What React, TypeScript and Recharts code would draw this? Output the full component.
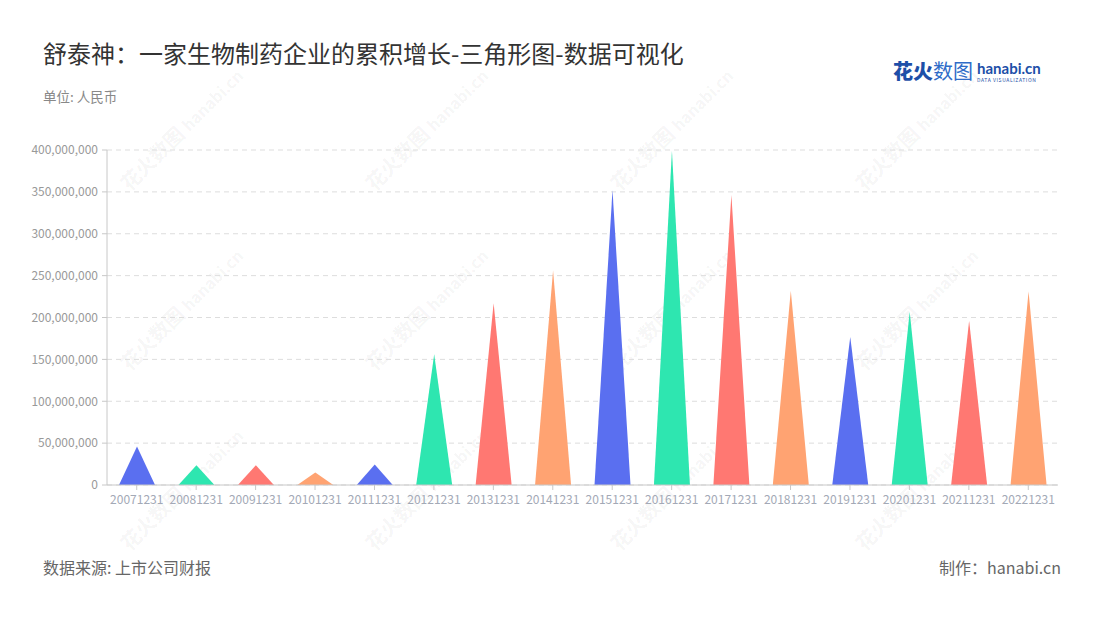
import React from "react";
import { BarChart, Bar, XAxis, YAxis, CartesianGrid, Cell } from "recharts";

const categories = [
  "20071231", "20081231", "20091231", "20101231", "20111231", "20121231",
  "20131231", "20141231", "20151231", "20161231", "20171231", "20181231",
  "20191231", "20201231", "20211231", "20221231",
];
const values = [
  46000000, 23500000, 23500000, 15000000, 24500000, 156000000,
  217000000, 256000000, 352000000, 399000000, 347000000, 232000000,
  177000000, 207000000, 196000000, 231000000,
];
const yTicks = [0, 50000000, 100000000, 150000000, 200000000, 250000000, 300000000, 350000000, 400000000];
const palette = ["#5A6FF0", "#2EE6B0", "#FF7872", "#FFA372"];

const data = categories.map((c, i) => ({ name: c, value: values[i] }));

const FONT = '"Noto Sans CJK SC", "Noto Sans", sans-serif';

const Triangle = (props: any) => {
  const { x, y, width, height, fill } = props;
  if (height == null || height <= 0) return null;
  const d = `M${x},${y + height} L${x + width / 2},${y} L${x + width},${y + height} Z`;
  return <path d={d} fill={fill} stroke="none" />;
};

const fmt = (v: number) => v.toLocaleString("en-US");

const watermarkPos: [number, number][] = [];
[180, 425, 670, 915].forEach((x) => {
  [130, 310, 490].forEach((y) => watermarkPos.push([x, y]));
});

export default function App() {
  return (
    <div style={{ position: "relative", width: 1100, height: 620, background: "#fff", fontFamily: FONT, overflow: "hidden" }}>
      <style>{`body{margin:0;}`}</style>
      {watermarkPos.map(([x, y], i) => (
        <div
          key={i}
          style={{
            position: "absolute",
            left: x - 80,
            top: y - 15,
            width: 160,
            textAlign: "center",
            transform: "rotate(-45deg)",
            color: "rgba(0,0,0,0.055)",
            fontSize: 20,
            fontWeight: 700,
            whiteSpace: "nowrap",
            pointerEvents: "none",
          }}
        >
          花火数图 <span style={{ fontSize: 16 }}>hanabi.cn</span>
        </div>
      ))}
      <div style={{ position: "absolute", left: 43, top: 37, fontSize: 24, color: "#333", whiteSpace: "nowrap", lineHeight: "32px" }}>
        舒泰神：一家生物制药企业的累积增长-三角形图-数据可视化
      </div>
      <div style={{ position: "absolute", left: 43, top: 86, fontSize: 13.5, color: "#888", whiteSpace: "nowrap", lineHeight: "20px" }}>
        单位: 人民币
      </div>
      <div style={{ position: "absolute", left: 893, top: 58, whiteSpace: "nowrap", display: "flex", alignItems: "center" }}>
        <span style={{ fontSize: 20, fontWeight: 900, color: "#1D4FA8", lineHeight: "26px" }}>花火</span>
        <span style={{ fontSize: 20, fontWeight: 400, color: "#2F6CC8", lineHeight: "26px" }}>数图</span>
        <div style={{ marginLeft: 4, display: "flex", flexDirection: "column", lineHeight: 1 }}>
          <span style={{ fontSize: 15, fontWeight: 700, color: "#1D4FA8", fontFamily: "Lato, sans-serif" }}>hanabi.cn</span>
          <span style={{ fontSize: 5, color: "#1D4FA8", letterSpacing: 0.6, marginTop: 1 }}>DATA VISUALIZATION</span>
        </div>
      </div>
      <div style={{ position: "absolute", left: 43, top: 556, fontSize: 16, color: "#666", whiteSpace: "nowrap", lineHeight: "22px" }}>
        数据来源: 上市公司财报
      </div>
      <div style={{ position: "absolute", right: 39, top: 556, fontSize: 16, color: "#666", whiteSpace: "nowrap", lineHeight: "22px" }}>
        制作：hanabi.cn
      </div>
      <div style={{ position: "absolute", left: 0, top: 0 }}>
        <BarChart
          width={1100}
          height={620}
          data={data}
          margin={{ top: 150, right: 42, bottom: 105, left: 0 }}
          barSize={36}
        >
          <CartesianGrid vertical={false} stroke="#dddddd" strokeDasharray="5 4" />
          <XAxis
            dataKey="name"
            interval={0}
            height={30}
            axisLine={{ stroke: "#c8c8c8" }}
            tickLine={{ stroke: "#c8c8c8" }}
            tickSize={5}
            tickMargin={5}
            tick={{ fill: "#A3A9B6", fontSize: 12, fontFamily: FONT }}
          />
          <YAxis
            width={107}
            domain={[0, 400000000]}
            ticks={yTicks}
            interval={0}
            tickFormatter={fmt}
            axisLine={{ stroke: "#c8c8c8" }}
            tickLine={{ stroke: "#c8c8c8" }}
            tickSize={5}
            tickMargin={4}
            tick={{ fill: "#999", fontSize: 12, fontFamily: FONT }}
          />
          <Bar dataKey="value" shape={<Triangle />} isAnimationActive={false}>
            {data.map((d, i) => (
              <Cell key={d.name} fill={palette[i % palette.length]} />
            ))}
          </Bar>
        </BarChart>
      </div>
    </div>
  );
}
